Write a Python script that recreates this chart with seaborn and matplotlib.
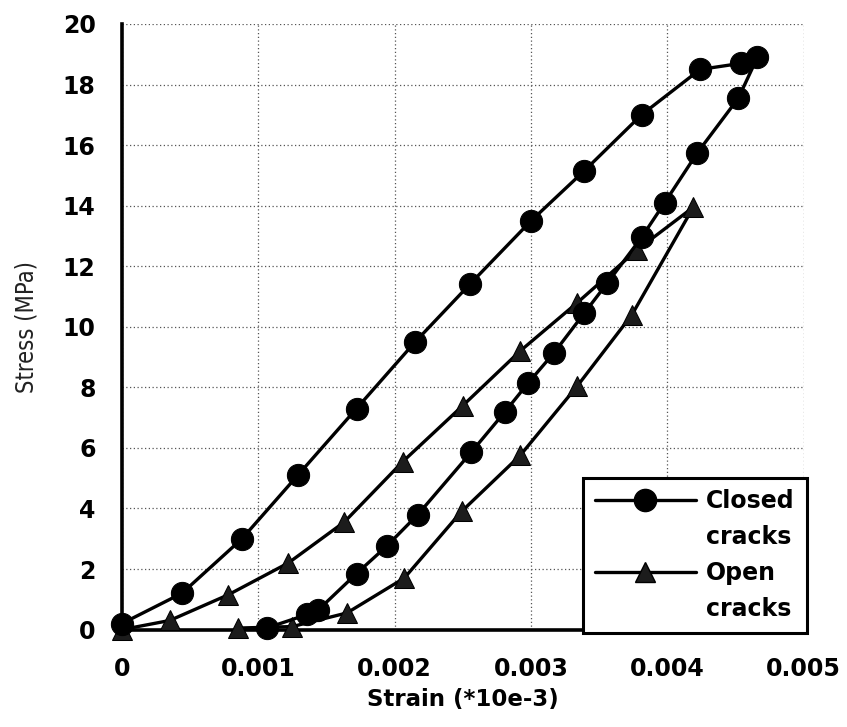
import numpy as np
import pandas as pd
import matplotlib
matplotlib.use("Agg")
import matplotlib.pyplot as plt
from matplotlib.lines import Line2D
import seaborn as sns

# Stress-strain loops (strain, stress in MPa)
closed_strain = [0.0, 0.00044, 0.00088, 0.00129, 0.00172, 0.00215, 0.00255, 0.00300,
                 0.00339, 0.00381, 0.00424, 0.00454, 0.00466, 0.00452, 0.00422, 0.00398,
                 0.00381, 0.00356, 0.00339, 0.00317, 0.00298, 0.00281, 0.00256, 0.00217,
                 0.00194, 0.00172, 0.00144, 0.00136, 0.00106]
closed_stress = [0.2, 1.2, 3.0, 5.1, 7.3, 9.5, 11.4, 13.5,
                 15.15, 17.0, 18.5, 18.7, 18.9, 17.55, 15.75, 14.1,
                 12.95, 11.45, 10.45, 9.15, 8.15, 7.2, 5.85, 3.8,
                 2.75, 1.85, 0.65, 0.5, 0.05]

open_strain = [0.0, 0.00035, 0.00078, 0.00122, 0.00163, 0.00206, 0.00250, 0.00292,
               0.00334, 0.00378, 0.00419, 0.00374, 0.00334, 0.00292, 0.00249, 0.00207,
               0.00165, 0.00125, 0.00085]
open_stress = [0.0, 0.3, 1.15, 2.2, 3.55, 5.55, 7.4, 9.2,
               10.8, 12.55, 13.95, 10.4, 8.05, 5.75, 3.9, 1.7,
               0.55, 0.1, 0.05]

x_ticks = [0, 0.001, 0.002, 0.003, 0.004, 0.005]
x_tick_labels = ["0", "0.001", "0.002", "0.003", "0.004", "0.005"]
y_ticks = list(range(0, 21, 2))

sns.set_style("white")
plt.rcParams["font.family"] = ["DejaVu Sans"]
plt.rcParams["text.color"] = "black"

fig = plt.figure(figsize=(8.47, 7.27), dpi=100)
ax = fig.add_axes([0.144, 0.134, 0.805, 0.833])

closed_df = pd.DataFrame({"strain": closed_strain, "stress": closed_stress})
open_df = pd.DataFrame({"strain": open_strain, "stress": open_stress})

sns.lineplot(data=open_df, x="strain", y="stress", sort=False, estimator=None,
             color="black", linewidth=2.4, marker="^", markersize=15,
             markeredgecolor="black", markerfacecolor="#1c1c1c",
             ax=ax, clip_on=False, zorder=6)
sns.lineplot(data=closed_df, x="strain", y="stress", sort=False, estimator=None,
             color="black", linewidth=2.4, marker="o", markersize=16,
             markeredgecolor="black", markerfacecolor="black",
             ax=ax, clip_on=False, zorder=7)

ax.set_xlim(0, 0.005)
ax.set_ylim(0, 20)
ax.set_xticks(x_ticks)
ax.set_xticklabels(x_tick_labels)
ax.set_yticks(y_ticks)

ax.grid(True, color="#555555", linestyle=(0, (1, 2)), linewidth=0.9)
for side in ("top", "right"):
    ax.spines[side].set_visible(False)
for side in ("left", "bottom"):
    ax.spines[side].set_color("black")
    ax.spines[side].set_linewidth(2.6)
    ax.spines[side].set_zorder(5)

ax.tick_params(axis="both", direction="inout", length=14, width=2.2,
               color="black", labelsize=17, labelcolor="black")
ax.tick_params(axis="y", pad=12)
ax.tick_params(axis="x", pad=13)
for lbl in ax.get_xticklabels() + ax.get_yticklabels():
    lbl.set_fontweight("bold")

ax.set_xlabel("Strain (*10e-3)", fontsize=16.5, fontweight="bold", color="black")
ax.xaxis.set_label_coords(0.5, -0.097)
ax.set_ylabel("Stress (MPa)", fontsize=17, fontweight="normal", color="#222222",
              family=["Liberation Sans Narrow", "DejaVu Sans"],
              fontstretch="condensed")
ax.yaxis.set_label_coords(-0.122, 0.5)

# Legend: marker rows followed by continuation rows without a handle
handles = [
    Line2D([], [], color="black", linewidth=2.4, marker="o", markersize=16,
           markerfacecolor="black", markeredgecolor="black"),
    Line2D([], [], linestyle="none"),
    Line2D([], [], color="black", linewidth=2.4, marker="^", markersize=15,
           markerfacecolor="#1c1c1c", markeredgecolor="black"),
    Line2D([], [], linestyle="none"),
]
labels = ["Closed", "cracks", "Open", "cracks"]
leg = ax.legend(handles, labels, loc="lower right", bbox_to_anchor=(1.004, -0.005),
                frameon=True, fancybox=False, shadow=False,
                prop={"size": 17, "weight": "bold", "family": "DejaVu Sans"},
                handlelength=4.3, handletextpad=0.42, labelspacing=0.5,
                borderpad=0.5, borderaxespad=0.0)
leg.get_frame().set_edgecolor("black")
leg.get_frame().set_linewidth(2.2)
leg.get_frame().set_facecolor("white")
leg.get_frame().set_alpha(1)
leg.set_zorder(8)

fig.savefig("out.png", dpi=100)
